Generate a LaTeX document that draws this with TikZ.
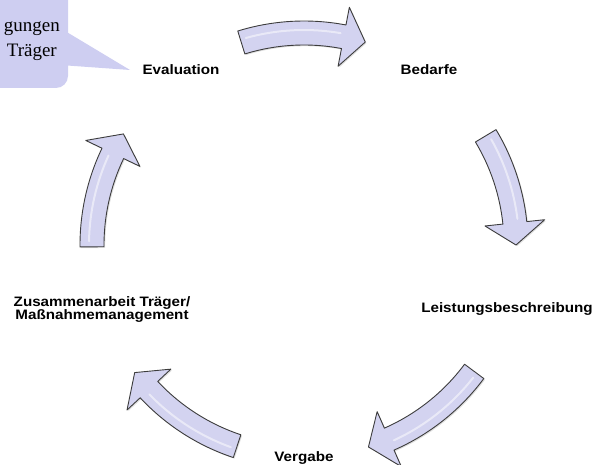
\documentclass[tikz,border=0pt]{standalone}
\usepackage{fontspec}
\setmainfont{Liberation Serif}
\setsansfont{Liberation Sans}
\usetikzlibrary{shadows}
\definecolor{arrfill}{RGB}{211,211,240}
\definecolor{arrline}{RGB}{60,60,60}
\definecolor{callfill}{RGB}{206,206,241}
\tikzset{
  arrowbody/.style={fill=arrfill, draw=arrline, line width=0.9pt, line join=round,
    drop shadow={shadow xshift=1.2pt, shadow yshift=-1.2pt, opacity=0.25}},
  gloss/.style={draw=white, line width=2pt, opacity=0.5, line cap=round},
  steplabel/.style={font=\sffamily\bfseries\fontsize{15.2}{14.5}\selectfont, inner sep=0pt, yscale=0.9, transform shape},
  calltext/.style={font=\rmfamily\fontsize{19}{22}\selectfont, inner sep=0pt}
}
\newcommand{\cycarrow}[2]{%
  \pgfmathsetmacro\cyA{#1}\pgfmathsetmacro\cyB{#2}\pgfmathsetmacro\cyH{#2+6}%
  \pgfmathsetmacro\cyG{#1-1.5}\pgfmathsetmacro\cyE{#2+7}%
  \path[arrowbody] (\cyA:224) arc[start angle=\cyA, end angle=\cyH, radius=224]
    -- (\cyH:242) -- (\cyB:212) -- (\cyH:182) -- (\cyH:200)
    arc[start angle=\cyH, end angle=\cyA, radius=200] -- cycle;
  \draw[gloss] (\cyG:215) arc[start angle=\cyG, end angle=\cyE, radius=215];
}
\begin{document}
\begin{tikzpicture}[x=1pt, y=1pt]
  \useasboundingbox (0,0) rectangle (592,464);
  \clip (0,0) rectangle (592,464);
  % callout
  \fill[callfill, rounded corners=12pt] (-20,376) rectangle (68,484);
  \fill[callfill] (60,436) -- (130,394) -- (60,399) -- cycle;
  \node[calltext, anchor=base east] (c1) at (60,432) {gungen};
  \node[calltext, anchor=base east] (c2) at (57,407) {Träger};
  % arrows
  \begin{scope}[shift={(304,219)}]
    \cycarrow{107.2}{73.2}
    \cycarrow{31}{0}
    \cycarrow{-36.6}{-72.3}
    \cycarrow{-108.4}{-143}
    \cycarrow{180.5}{148.4}
  \end{scope}
  % labels
  \node[steplabel, anchor=base] (ev) at (181,389) {Evaluation};
  \node[steplabel, anchor=base] (bed) at (429,389) {Bedarfe};
  \node[steplabel, anchor=base] (lei) at (507,151) {Leistungsbeschreibung};
  \node[steplabel, anchor=base] (ver) at (304,3) {Vergabe};
  \node[steplabel, align=center] (zus) at (102,154.5) {Zusammenarbeit Träger/\\Maßnahmemanagement};
\end{tikzpicture}
\end{document}
